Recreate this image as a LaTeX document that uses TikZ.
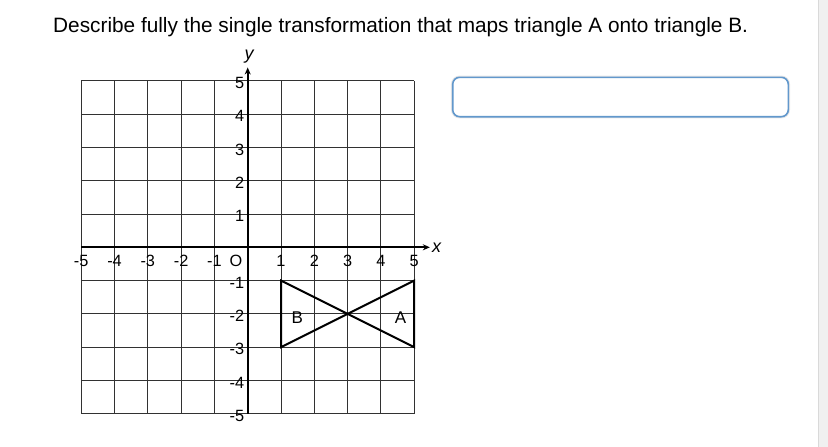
\documentclass[tikz,border=0pt]{standalone}
\usepackage{fontspec}
\setmainfont{Liberation Sans}
\usetikzlibrary{arrows.meta}
\definecolor{gridc}{RGB}{50,50,50}
\definecolor{boxblue}{RGB}{98,152,204}
\tikzset{
  gridline/.style={draw=gridc, line width=1pt},
  axisline/.style={draw=black, line width=2pt, -{Stealth[length=7pt,width=6pt]}},
  triline/.style={draw=black, line width=2pt, line join=miter},
  ticklbl/.style={font=\fontsize{16.3}{19}\selectfont, inner sep=0pt},
  shapelbl/.style={font=\fontsize{17}{20}\selectfont, inner sep=0pt},
}
\begin{document}
\begin{tikzpicture}[x=1pt,y=-1pt]
\useasboundingbox (0,0) rectangle (828,447);
% right page strip
\fill[gray!12] (818,0) rectangle (828,447);
\draw[gray!30, line width=0.8pt] (818,0) -- (818,447);
% title
\node[anchor=base west, inner sep=0pt, font=\fontsize{20.8}{24}\selectfont] (title) at (53,32.7)
  {Describe fully the single transformation that maps triangle A onto triangle B.};
% answer box
\draw[gray!18, line width=3.5pt, rounded corners=7pt] (452.7,77.3) rectangle (788.3,116.7);
\draw[boxblue, line width=1.6pt, rounded corners=7pt, fill=white] (452.7,77.3) rectangle (788.3,116.7);
\node[inner sep=0pt, minimum width=335pt, minimum height=39pt] (answer) at (620.5,97) {};
% graph
\begin{scope}[xshift=247.7pt, yshift=-247.3pt, x=33.3pt, y=33.3pt]
  \foreach \i in {-5,...,5} {
    \draw[gridline] (\i,-5) -- (\i,5);
    \draw[gridline] (-5,\i) -- (5,\i);
  }
  \coordinate (xs) at (-5,0);
  \coordinate (xe) at (5.47,0);
  \coordinate (ys) at (0,-5);
  \coordinate (ye) at (0,5.4);
  \draw[axisline] (xs) -- (xe);
  \draw[axisline] (ys) -- (ye);
  \node[font=\fontsize{18}{21}\selectfont\itshape, inner sep=0pt] (xlbl) at (5.67,-0.02) {x};
  \node[font=\fontsize{18}{21}\selectfont\itshape, inner sep=0pt] (ylbl) at (0.04,5.74) {y};
  % x tick labels
  \foreach \i/\n in {-5/xm5,-4/xm4,-3/xm3,-2/xm2,-1/xm1,1/xp1,2/xp2,3/xp3,4/xp4,5/xp5} {
    \node[ticklbl, anchor=base] (\n) at (\i,-0.58) {\i};
  }
  \node[ticklbl, anchor=base] (origin) at (-0.35,-0.58) {O};
  % y tick labels
  \foreach \j/\n in {5/yp5,4/yp4,3/yp3,2/yp2,1/yp1,-1/ym1,-2/ym2,-3/ym3,-4/ym4,-5/ym5} {
    \node[ticklbl, anchor=base east] (\n) at (-0.1,\j-0.23) {\j};
  }
  % triangles
  \coordinate (a1) at (5,-1);
  \coordinate (a2) at (5,-3);
  \coordinate (c) at (3,-2);
  \coordinate (b1) at (1,-1);
  \coordinate (b2) at (1,-3);
  \draw[triline] (a1) -- (a2) -- (c) -- cycle;
  \draw[triline] (b1) -- (b2) -- (c) -- cycle;
  \node[shapelbl] (B) at (1.49,-2.1) {B};
  \node[shapelbl] (A) at (4.59,-2.1) {A};
\end{scope}
\end{tikzpicture}
\end{document}
